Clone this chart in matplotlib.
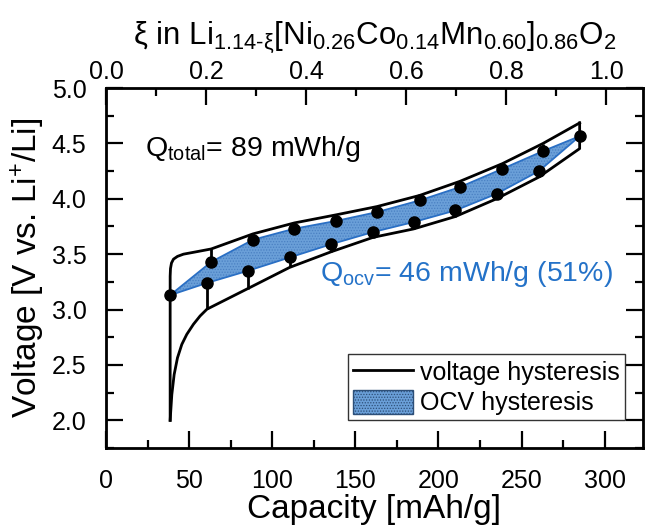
import matplotlib
matplotlib.use("Agg")
import matplotlib.pyplot as plt
from matplotlib.patches import Patch, Polygon
from matplotlib.lines import Line2D
from matplotlib.ticker import MultipleLocator

plt.rcParams["font.family"] = ["Liberation Sans", "DejaVu Sans"]
plt.rcParams["mathtext.fontset"] = "custom"
plt.rcParams["mathtext.rm"] = "Liberation Sans"
plt.rcParams["mathtext.it"] = "Liberation Sans"
plt.rcParams["mathtext.default"] = "regular"
plt.rcParams["hatch.linewidth"] = 0.6

BLUE_FILL = "#6a9fd8"
BLUE_HATCH = "#4a80c2"
BLUE_EDGE = "#2a6fc4"
BLUE_TEXT = "#2472c8"

# OCV points after relaxation (charge, then discharge)
cap_ocv_chg = [38.6, 63.3, 88.4, 113.3, 138.4, 163.1, 188.6, 212.8, 238.4, 262.8, 284.9]
ocv_chg = [3.13, 3.43, 3.63, 3.73, 3.80, 3.88, 3.985, 4.105, 4.27, 4.43, 4.565]
cap_ocv_dis = [260.4, 234.9, 210.2, 185.1, 160.7, 135.5, 110.4, 85.4, 60.7]
ocv_dis = [4.25, 4.045, 3.895, 3.79, 3.70, 3.59, 3.47, 3.35, 3.24]

# closed-circuit voltage under current
cap_chg = [38.6, 38.6, 38.8, 39.4, 40.6, 43.0, 46.6, 52.0, 63.3, 88.4, 113.3, 138.4,
           163.1, 188.6, 212.8, 238.4, 262.8, 284.9]
v_chg = [2.0, 3.30, 3.37, 3.42, 3.455, 3.48, 3.50, 3.515, 3.547, 3.683, 3.782, 3.855,
         3.93, 4.03, 4.157, 4.317, 4.499, 4.685]
cap_dis = [284.9, 284.9, 260.4, 234.9, 210.2, 185.1, 160.7, 135.5, 110.4, 85.4, 60.7,
           56.6, 52.6, 48.6, 45.6, 43.0, 41.0, 39.6, 38.6]
v_dis = [4.685, 4.453, 4.196, 4.0, 3.84, 3.728, 3.652, 3.522, 3.38, 3.19, 3.003,
         2.942, 2.867, 2.776, 2.685, 2.564, 2.413, 2.232, 2.0]

# voltage at the start of each relaxation step
v_chg_relax = [3.547, 3.683, 3.782, 3.855, 3.93, 4.03, 4.157, 4.317, 4.499]
v_dis_relax = [4.196, 4.0, 3.84, 3.728, 3.652, 3.522, 3.38, 3.19, 3.003]

XI_PER_CAP = 1 / 301.0

fig = plt.figure(figsize=(6.47, 5.28), dpi=100)
ax = fig.add_axes([0.1638, 0.1515, 0.83, 0.6818])

# OCV hysteresis area
poly_x = cap_ocv_chg + cap_ocv_dis
poly_y = ocv_chg + ocv_dis
area = Polygon(list(zip(poly_x, poly_y)), closed=True, facecolor=BLUE_FILL,
               edgecolor=BLUE_HATCH, hatch="......", linewidth=0, zorder=1)
ax.add_patch(area)
ax.plot(poly_x + poly_x[:1], poly_y + poly_y[:1], color=BLUE_EDGE, lw=1.3, zorder=2)

# voltage hysteresis
ax.plot(cap_chg, v_chg, color="black", lw=2, solid_joinstyle="round", zorder=3)
ax.plot(cap_dis, v_dis, color="black", lw=2, solid_joinstyle="round", zorder=3)
ax.vlines(cap_ocv_chg[1:-1], ocv_chg[1:-1], v_chg_relax, color="black", lw=2, zorder=3)
ax.vlines(cap_ocv_dis, v_dis_relax, ocv_dis, color="black", lw=2, zorder=3)

ax.plot(cap_ocv_chg, ocv_chg, "o", color="black", ms=8, zorder=4)
ax.plot(cap_ocv_dis, ocv_dis, "o", color="black", ms=8, zorder=4)

ax.set_xlim(0, 323)
ax.set_ylim(1.75, 5.0)
ax.xaxis.set_major_locator(MultipleLocator(50))
ax.xaxis.set_minor_locator(MultipleLocator(25))
ax.yaxis.set_major_locator(MultipleLocator(0.5))
ax.yaxis.set_minor_locator(MultipleLocator(0.25))
ax.yaxis.set_major_formatter(lambda v, p: f"{v:.1f}")
ax.tick_params(which="both", direction="in", width=1.6, right=True, labelsize=18)
ax.tick_params(which="major", length=12)
ax.tick_params(which="minor", length=6)
ax.tick_params(axis="x", pad=15)
ax.tick_params(axis="y", pad=14)
for s in ax.spines.values():
    s.set_linewidth(2)

ax.set_xlabel("Capacity [mAh/g]", fontsize=24, labelpad=1)
ax.set_ylabel("Voltage [V vs. Li$^{+}$/Li]", fontsize=24, labelpad=3)

top = ax.twiny()
top.set_xlim(0, 323 * XI_PER_CAP)
top.xaxis.set_major_locator(MultipleLocator(0.2))
top.xaxis.set_minor_locator(MultipleLocator(0.1))
top.xaxis.set_major_formatter(lambda v, p: f"{v:.1f}")
top.tick_params(which="both", direction="in", width=1.6, labelsize=18, pad=3)
top.tick_params(which="major", length=12)
top.tick_params(which="minor", length=6)
top.set_xlabel("ξ in Li$_{1.14\\text{-}ξ}$[Ni$_{0.26}$Co$_{0.14}$Mn$_{0.60}$]$_{0.86}$O$_{2}$",
               fontsize=22.5, labelpad=11)

ax.text(23.5, 4.39, "Q$_{total}$= 89 mWh/g", fontsize=20.5, ha="left", va="baseline")
ax.text(129, 3.26, "Q$_{ocv}$= 46 mWh/g (51%)", fontsize=20.5, color=BLUE_TEXT,
        ha="left", va="baseline")

handles = [
    Line2D([], [], color="black", lw=2),
    Patch(facecolor=BLUE_FILL, edgecolor="#2d4f78", hatch="......", lw=1),
]
leg = ax.legend(handles, ["voltage hysteresis", "OCV hysteresis"], loc="upper right",
                bbox_to_anchor=(0.9665, 0.26), borderaxespad=0, fontsize=18,
                frameon=True, fancybox=False, handlelength=2.4, handleheight=1.1,
                handletextpad=0.3, labelspacing=0.2, borderpad=0.2)
leg.get_frame().set_edgecolor("black")
leg.get_frame().set_linewidth(1)

fig.savefig("out.png", dpi=100)
